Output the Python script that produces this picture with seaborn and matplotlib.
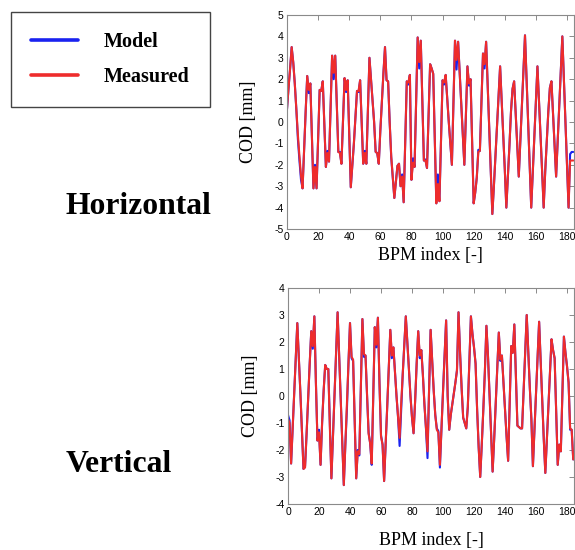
import numpy as np
import seaborn as sns
import matplotlib.pyplot as plt

# BPM index and closed-orbit distortion values [mm]
bpm = np.arange(185)

h_measured = [
    0.6, 1.6, 2.5, 3.5, 2.8, 1.8, 0.6, -0.6, -1.6, -2.5,
    -3.1, -1.3, 0.5, 2.15, 1.5, 1.8, -0.6, -3.1, -2.1, -3.1,
    -0.8, 1.5, 1.45, 1.9, -0.1, -2.1, -1.45, -1.85, 0.6, 3.1,
    2.3, 3.1, 0.8, -1.4, -1.45, -1.95, 0.0, 2.05, 1.5, 1.95,
    -0.5, -3.05, -2.0, -1.0, 0.2, 1.45, 1.45, 1.95, 0.0, -1.95,
    -1.45, -1.95, 0.5, 3.0, 2.0, 1.0, 0.0, -1.4, -1.45, -1.95,
    -0.4, 1.0, 2.3, 3.5, 1.95, 1.9, 0.0, -1.6, -2.6, -3.55,
    -2.8, -2.05, -1.95, -3.0, -2.55, -3.75, -0.9, 1.9, 1.85, 2.2,
    -2.7, -1.9, -2.1, 1.0, 3.95, 2.8, 3.8, 1.0, -1.8, -1.8,
    -2.15, 0.3, 2.7, 2.5, 2.25, -0.8, -3.8, -2.9, -3.7, -0.9,
    1.95, 1.85, 2.2, 1.1, 0.0, -1.0, -2.0, 0.9, 3.8, 2.9,
    3.75, 2.3, 0.9, -0.6, -2.0, 0.3, 2.6, 1.8, 2.0, -0.9,
    -3.8, -3.3, -2.6, -1.4, -1.35, 0.9, 3.2, 2.7, 3.75, 1.7,
    -0.3, -2.3, -4.3, -3.0, -1.6, -0.3, 1.1, 2.6, 1.0, -0.6,
    -2.2, -4.0, -2.6, -1.1, 0.5, 1.55, 1.9, 0.4, -1.1, -2.55,
    -0.9, 0.8, 2.4, 4.05, 2.0, 0.0, -2.0, -4.0, -2.3, -0.7,
    0.9, 2.6, 1.0, -0.6, -2.3, -4.0, -2.3, -0.9, 0.5, 1.6,
    1.9, 0.4, -1.1, -2.55, -0.9, 0.7, 2.3, 4.0, 2.0, 0.0,
    -2.0, -4.0, -1.8, -1.8, -1.8,
]

h_model = [
    0.6, 1.6, 2.5, 3.5, 2.8, 1.8, 0.6, -0.8, -1.8, -2.7,
    -3.1, -1.3, 0.5, 2.15, 1.35, 1.8, -0.6, -3.1, -2.0, -3.1,
    -0.8, 1.5, 1.45, 1.9, -0.1, -2.1, -1.35, -1.85, 0.6, 3.1,
    2.0, 3.1, 0.8, -1.4, -1.4, -1.95, 0.0, 2.05, 1.4, 1.95,
    -0.5, -3.05, -2.0, -1.0, 0.2, 1.45, 1.4, 1.95, 0.0, -1.95,
    -1.35, -1.95, 0.5, 3.0, 2.0, 1.0, 0.0, -1.4, -1.45, -1.95,
    -0.4, 1.0, 2.3, 3.5, 1.95, 1.9, 0.0, -1.65, -2.6, -3.55,
    -2.8, -2.05, -1.95, -3.0, -2.45, -3.75, -0.9, 1.9, 1.75, 2.2,
    -2.7, -1.7, -2.1, 1.0, 3.95, 2.5, 3.8, 1.0, -1.8, -1.75,
    -2.15, 0.3, 2.7, 2.5, 2.25, -0.8, -3.8, -2.45, -3.7, -0.9,
    1.95, 1.75, 2.2, 1.1, 0.0, -1.0, -2.0, 0.9, 3.8, 2.45,
    3.75, 2.3, 0.9, -0.6, -2.0, 0.3, 2.6, 1.7, 2.0, -0.9,
    -3.8, -3.3, -2.6, -1.3, -1.35, 0.9, 3.2, 2.5, 3.75, 1.7,
    -0.3, -2.3, -4.3, -3.0, -1.6, -0.3, 1.1, 2.6, 1.0, -0.6,
    -2.2, -4.0, -2.6, -1.1, 0.5, 1.55, 1.9, 0.4, -1.1, -2.55,
    -0.9, 0.8, 2.4, 4.05, 2.0, 0.0, -2.0, -4.0, -2.3, -0.7,
    0.9, 2.6, 1.0, -0.6, -2.3, -4.0, -2.3, -0.9, 0.5, 1.6,
    1.9, 0.4, -1.1, -2.55, -0.9, 0.7, 2.3, 4.0, 2.0, 0.0,
    -2.0, -4.0, -1.5, -1.4, -1.4,
]

v_measured = [
    -0.85, -1.0, -2.5, -1.2, 0.1, 1.4, 2.7, 1.4, 0.1, -1.3,
    -2.7, -2.65, -1.4, -0.1, 1.2, 2.4, 1.85, 2.95, 0.5, -1.65,
    -1.35, -2.55, -1.0, 0.2, 1.15, 1.0, 1.0, -1.15, -3.05, -1.5,
    0.0, 1.6, 3.1, 1.5, -0.1, -1.7, -3.3, -1.8, -0.3, 1.2,
    2.7, 1.45, 1.35, -0.9, -3.05, -2.05, -2.15, 0.4, 2.85, 1.55,
    1.5, 0.0, -1.4, -1.75, -2.5, 0.0, 2.55, 1.9, 2.9, 0.5,
    -1.5, -1.8, -3.15, -1.8, -0.4, 1.0, 2.45, 1.5, 1.8, 0.9,
    0.0, -0.8, -1.55, -0.3, 0.8, 1.9, 2.95, 2.0, 1.0, 0.0,
    -0.8, -1.38, -0.2, 1.2, 2.4, 1.5, 1.7, 0.8, -0.3, -1.2,
    -2.05, 0.2, 2.45, 1.3, 0.2, -0.7, -1.25, -1.35, -2.55, -1.2,
    0.2, 1.5, 2.8, 0.0, -1.25, -0.7, -0.3, 0.1, 0.5, 0.95,
    3.1, 1.6, 0.3, -0.8, -1.0, -1.2, -0.4, 1.3, 2.95, 2.3,
    1.8, 1.2, -0.5, -1.9, -3.0, -1.8, -0.5, 0.9, 2.6, 1.5,
    0.1, -1.4, -2.8, -1.6, -0.3, 1.0, 2.35, 1.35, 1.5, 0.5,
    -0.5, -1.5, -2.4, -0.3, 1.85, 1.6, 2.65, 0.8, -1.1, -1.15,
    -1.2, -1.2, 0.2, 1.6, 3.0, 1.6, 0.3, -0.85, -2.6, -1.2,
    0.1, 1.4, 2.75, 1.3, -0.2, -1.6, -2.85, -1.6, -0.4, 0.9,
    2.1, 1.7, 1.4, -0.6, -2.55, -1.8, -2.05, 0.1, 2.2, 1.6,
    1.1, 0.5, -1.2, -1.25, -2.35,
]

v_model = [
    -0.7, -0.9, -2.5, -1.2, 0.1, 1.4, 2.7, 1.4, 0.1, -1.3,
    -2.7, -2.6, -1.4, -0.1, 1.2, 2.4, 1.75, 2.95, 0.5, -1.65,
    -1.25, -2.55, -1.0, 0.2, 1.15, 1.0, 1.0, -1.05, -3.05, -1.5,
    0.0, 1.6, 3.1, 1.5, -0.1, -1.7, -3.3, -1.8, -0.5, 1.2,
    2.7, 1.4, 1.3, -0.9, -3.05, -2.0, -2.2, 0.4, 2.85, 1.45,
    1.5, 0.0, -1.35, -1.75, -2.55, 0.0, 2.55, 1.8, 2.9, 0.5,
    -1.45, -1.8, -3.15, -1.8, -0.4, 1.0, 2.45, 1.4, 1.8, 0.9,
    0.0, -0.8, -1.85, -0.5, 0.8, 1.9, 2.95, 2.0, 1.0, 0.0,
    -0.8, -1.38, -0.2, 1.2, 2.4, 1.4, 1.7, 0.8, -0.3, -1.2,
    -2.3, 0.2, 2.45, 1.3, 0.2, -0.7, -1.2, -1.3, -2.65, -1.2,
    0.2, 1.5, 2.8, 0.0, -1.25, -0.7, -0.3, 0.1, 0.5, 0.95,
    3.1, 1.6, 0.3, -0.8, -1.0, -1.2, -0.4, 1.3, 2.95, 2.3,
    1.8, 1.2, -0.5, -1.9, -3.0, -1.8, -0.5, 0.9, 2.6, 1.5,
    0.1, -1.4, -2.8, -1.6, -0.3, 1.0, 2.35, 1.3, 1.5, 0.5,
    -0.5, -1.5, -2.4, -0.3, 1.85, 1.6, 2.65, 0.8, -1.1, -1.15,
    -1.2, -1.2, 0.2, 1.6, 3.0, 1.6, 0.3, -0.85, -2.6, -1.2,
    0.1, 1.4, 2.75, 1.3, -0.2, -1.6, -2.85, -1.6, -0.4, 0.9,
    2.1, 1.7, 1.4, -0.6, -2.55, -1.8, -2.05, 0.1, 2.2, 1.6,
    1.1, 0.5, -1.25, -1.25, -2.35,
]

BLUE = "#1a22f0"
RED = "#ee2c2c"

sns.set_theme(style="white")
plt.rcParams["font.family"] = ["Liberation Sans", "DejaVu Sans"]
plt.rcParams["text.color"] = "black"
plt.rcParams["axes.labelcolor"] = "black"
plt.rcParams["axes.unicode_minus"] = False

fig = plt.figure(figsize=(5.75, 5.5), dpi=100)
ax_h = fig.add_axes([287 / 575, 1 - 229 / 550, 287 / 575, 214 / 550])
ax_v = fig.add_axes([288 / 575, 1 - 504 / 550, 286 / 575, 216 / 550])

serif = {"family": "Liberation Serif", "size": 13, "color": "black"}

for ax, model, meas, ylim in [(ax_h, h_model, h_measured, (-5, 5)),
                              (ax_v, v_model, v_measured, (-4, 4))]:
    sns.lineplot(x=bpm, y=model, color=BLUE, lw=1.5, ax=ax, label="Model")
    sns.lineplot(x=bpm, y=meas, color=RED, lw=1.5, ax=ax, label="Measured")
    ax.set_xlim(0, 184.5)
    ax.set_ylim(*ylim)
    ax.set_xticks(np.arange(0, 181, 20))
    ax.set_yticks(np.arange(ylim[0], ylim[1] + 1, 1))
    ax.tick_params(direction="in", top=True, right=True, length=3.5, width=0.6,
                   color="#777777", labelsize=7.5, pad=2.5, labelcolor="black")
    for s in ax.spines.values():
        s.set_color("#8a8a8a")
        s.set_linewidth(0.8)
    ax.set_ylabel("COD [mm]", fontdict=serif)
    ax.set_xlabel("BPM index [-]", fontdict=serif)
    ax.get_legend().remove()

ax_h.yaxis.set_label_coords(-0.105, 0.5)
ax_h.xaxis.set_label_coords(0.5, -0.085)
ax_v.yaxis.set_label_coords(-0.1, 0.5)
ax_v.xaxis.set_label_coords(0.5, -0.128)

handles, labels = ax_h.get_legend_handles_labels()
leg = fig.legend(handles, labels, loc="upper left",
                 bbox_to_anchor=(11 / 575, 1 - 12 / 550), borderaxespad=0,
                 frameon=True, fancybox=False, framealpha=1, edgecolor="#444444",
                 prop={"family": "Liberation Serif", "weight": "bold", "size": 14.5},
                 handlelength=2.35, handletextpad=1.25, borderpad=1.0,
                 labelspacing=0.75)
leg.get_frame().set_linewidth(1.0)
for ln in leg.get_lines():
    ln.set_linewidth(2.6)

fig.text(66 / 575, 1 - 207 / 550, "Horizontal", ha="left", va="center",
         family="Liberation Serif", weight="bold", size=22.8, color="black")
fig.text(66 / 575, 1 - 464 / 550, "Vertical", ha="left", va="center",
         family="Liberation Serif", weight="bold", size=22.8, color="black")

fig.savefig("out.png", dpi=100)
